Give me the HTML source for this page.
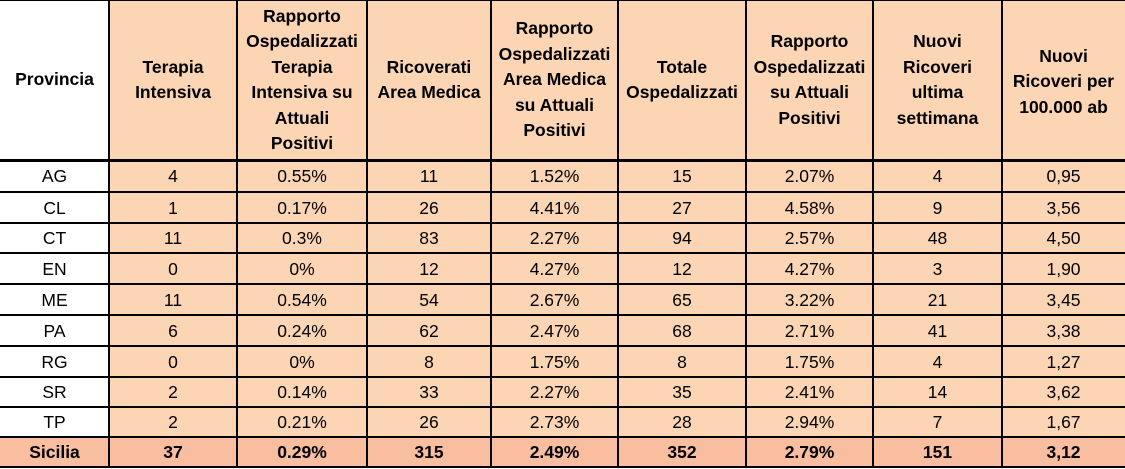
<!DOCTYPE html>
<html>
<head>
<meta charset="utf-8">
<style>
  html,body{margin:0;padding:0;background:#fff;}
  #wrap{position:relative;width:1125px;height:469px;overflow:hidden;background:#fff;
    font-family:"Liberation Sans",Arial,sans-serif;color:#000;}
  .c{position:absolute;display:flex;align-items:center;justify-content:center;text-align:center;
     white-space:nowrap;font-size:17.5px;}
  .h{font-weight:bold;line-height:25.5px;}
  .b{font-weight:bold;}
  .hl{position:absolute;left:0;width:1125px;background:#000;}
  .vl{position:absolute;top:0;height:468px;width:2px;background:#000;}
</style>
</head>
<body>
<div id="wrap">
  <div style="position:absolute;left:109px;top:0;width:1016px;height:160px;background:#FCD5B4;"></div>
  <div style="position:absolute;left:109px;top:160px;width:1016px;height:278px;background:#FCD5B4;"></div>
  <div style="position:absolute;left:0;top:437px;width:1125px;height:31px;background:#F9BEA0;"></div>

  <div class="c h" style="left:0;top:0;width:109px;height:160px;">Provincia</div>
  <div class="c h" style="left:109px;top:0;width:128px;height:160px;">Terapia<br>Intensiva</div>
  <div class="c h" style="left:237px;top:0;width:130px;height:160px;">Rapporto<br>Ospedalizzati<br>Terapia<br>Intensiva su<br>Attuali<br>Positivi</div>
  <div class="c h" style="left:367px;top:0;width:124px;height:160px;">Ricoverati<br>Area Medica</div>
  <div class="c h" style="left:491px;top:0;width:127px;height:160px;">Rapporto<br>Ospedalizzati<br>Area Medica<br>su Attuali<br>Positivi</div>
  <div class="c h" style="left:618px;top:0;width:128px;height:160px;">Totale<br>Ospedalizzati</div>
  <div class="c h" style="left:746px;top:0;width:127px;height:160px;">Rapporto<br>Ospedalizzati<br>su Attuali<br>Positivi</div>
  <div class="c h" style="left:873px;top:0;width:129px;height:160px;">Nuovi<br>Ricoveri<br>ultima<br>settimana</div>
  <div class="c h" style="left:1002px;top:0;width:123px;height:164px;">Nuovi<br>Ricoveri per<br>100.000 ab</div>

  <!-- AG -->
  <div class="c" style="left:0;top:161px;width:109px;height:31px;">AG</div>
  <div class="c" style="left:109px;top:161px;width:128px;height:31px;">4</div>
  <div class="c" style="left:237px;top:161px;width:130px;height:31px;">0.55%</div>
  <div class="c" style="left:367px;top:161px;width:124px;height:31px;">11</div>
  <div class="c" style="left:491px;top:161px;width:127px;height:31px;">1.52%</div>
  <div class="c" style="left:618px;top:161px;width:128px;height:31px;">15</div>
  <div class="c" style="left:746px;top:161px;width:127px;height:31px;">2.07%</div>
  <div class="c" style="left:873px;top:161px;width:129px;height:31px;">4</div>
  <div class="c" style="left:1002px;top:161px;width:123px;height:31px;">0,95</div>
  <!-- CL -->
  <div class="c" style="left:0;top:193px;width:109px;height:30px;">CL</div>
  <div class="c" style="left:109px;top:193px;width:128px;height:30px;">1</div>
  <div class="c" style="left:237px;top:193px;width:130px;height:30px;">0.17%</div>
  <div class="c" style="left:367px;top:193px;width:124px;height:30px;">26</div>
  <div class="c" style="left:491px;top:193px;width:127px;height:30px;">4.41%</div>
  <div class="c" style="left:618px;top:193px;width:128px;height:30px;">27</div>
  <div class="c" style="left:746px;top:193px;width:127px;height:30px;">4.58%</div>
  <div class="c" style="left:873px;top:193px;width:129px;height:30px;">9</div>
  <div class="c" style="left:1002px;top:193px;width:123px;height:30px;">3,56</div>
  <!-- CT -->
  <div class="c" style="left:0;top:224px;width:109px;height:29px;">CT</div>
  <div class="c" style="left:109px;top:224px;width:128px;height:29px;">11</div>
  <div class="c" style="left:237px;top:224px;width:130px;height:29px;">0.3%</div>
  <div class="c" style="left:367px;top:224px;width:124px;height:29px;">83</div>
  <div class="c" style="left:491px;top:224px;width:127px;height:29px;">2.27%</div>
  <div class="c" style="left:618px;top:224px;width:128px;height:29px;">94</div>
  <div class="c" style="left:746px;top:224px;width:127px;height:29px;">2.57%</div>
  <div class="c" style="left:873px;top:224px;width:129px;height:29px;">48</div>
  <div class="c" style="left:1002px;top:224px;width:123px;height:29px;">4,50</div>
  <!-- EN -->
  <div class="c" style="left:0;top:254px;width:109px;height:30px;">EN</div>
  <div class="c" style="left:109px;top:254px;width:128px;height:30px;">0</div>
  <div class="c" style="left:237px;top:254px;width:130px;height:30px;">0%</div>
  <div class="c" style="left:367px;top:254px;width:124px;height:30px;">12</div>
  <div class="c" style="left:491px;top:254px;width:127px;height:30px;">4.27%</div>
  <div class="c" style="left:618px;top:254px;width:128px;height:30px;">12</div>
  <div class="c" style="left:746px;top:254px;width:127px;height:30px;">4.27%</div>
  <div class="c" style="left:873px;top:254px;width:129px;height:30px;">3</div>
  <div class="c" style="left:1002px;top:254px;width:123px;height:30px;">1,90</div>
  <!-- ME -->
  <div class="c" style="left:0;top:285px;width:109px;height:30px;">ME</div>
  <div class="c" style="left:109px;top:285px;width:128px;height:30px;">11</div>
  <div class="c" style="left:237px;top:285px;width:130px;height:30px;">0.54%</div>
  <div class="c" style="left:367px;top:285px;width:124px;height:30px;">54</div>
  <div class="c" style="left:491px;top:285px;width:127px;height:30px;">2.67%</div>
  <div class="c" style="left:618px;top:285px;width:128px;height:30px;">65</div>
  <div class="c" style="left:746px;top:285px;width:127px;height:30px;">3.22%</div>
  <div class="c" style="left:873px;top:285px;width:129px;height:30px;">21</div>
  <div class="c" style="left:1002px;top:285px;width:123px;height:30px;">3,45</div>
  <!-- PA -->
  <div class="c" style="left:0;top:316px;width:109px;height:30px;">PA</div>
  <div class="c" style="left:109px;top:316px;width:128px;height:30px;">6</div>
  <div class="c" style="left:237px;top:316px;width:130px;height:30px;">0.24%</div>
  <div class="c" style="left:367px;top:316px;width:124px;height:30px;">62</div>
  <div class="c" style="left:491px;top:316px;width:127px;height:30px;">2.47%</div>
  <div class="c" style="left:618px;top:316px;width:128px;height:30px;">68</div>
  <div class="c" style="left:746px;top:316px;width:127px;height:30px;">2.71%</div>
  <div class="c" style="left:873px;top:316px;width:129px;height:30px;">41</div>
  <div class="c" style="left:1002px;top:316px;width:123px;height:30px;">3,38</div>
  <!-- RG -->
  <div class="c" style="left:0;top:347px;width:109px;height:30px;">RG</div>
  <div class="c" style="left:109px;top:347px;width:128px;height:30px;">0</div>
  <div class="c" style="left:237px;top:347px;width:130px;height:30px;">0%</div>
  <div class="c" style="left:367px;top:347px;width:124px;height:30px;">8</div>
  <div class="c" style="left:491px;top:347px;width:127px;height:30px;">1.75%</div>
  <div class="c" style="left:618px;top:347px;width:128px;height:30px;">8</div>
  <div class="c" style="left:746px;top:347px;width:127px;height:30px;">1.75%</div>
  <div class="c" style="left:873px;top:347px;width:129px;height:30px;">4</div>
  <div class="c" style="left:1002px;top:347px;width:123px;height:30px;">1,27</div>
  <!-- SR -->
  <div class="c" style="left:0;top:378px;width:109px;height:29px;">SR</div>
  <div class="c" style="left:109px;top:378px;width:128px;height:29px;">2</div>
  <div class="c" style="left:237px;top:378px;width:130px;height:29px;">0.14%</div>
  <div class="c" style="left:367px;top:378px;width:124px;height:29px;">33</div>
  <div class="c" style="left:491px;top:378px;width:127px;height:29px;">2.27%</div>
  <div class="c" style="left:618px;top:378px;width:128px;height:29px;">35</div>
  <div class="c" style="left:746px;top:378px;width:127px;height:29px;">2.41%</div>
  <div class="c" style="left:873px;top:378px;width:129px;height:29px;">14</div>
  <div class="c" style="left:1002px;top:378px;width:123px;height:29px;">3,62</div>
  <!-- TP -->
  <div class="c" style="left:0;top:408px;width:109px;height:29px;">TP</div>
  <div class="c" style="left:109px;top:408px;width:128px;height:29px;">2</div>
  <div class="c" style="left:237px;top:408px;width:130px;height:29px;">0.21%</div>
  <div class="c" style="left:367px;top:408px;width:124px;height:29px;">26</div>
  <div class="c" style="left:491px;top:408px;width:127px;height:29px;">2.73%</div>
  <div class="c" style="left:618px;top:408px;width:128px;height:29px;">28</div>
  <div class="c" style="left:746px;top:408px;width:127px;height:29px;">2.94%</div>
  <div class="c" style="left:873px;top:408px;width:129px;height:29px;">7</div>
  <div class="c" style="left:1002px;top:408px;width:123px;height:29px;">1,67</div>
  <!-- Sicilia -->
  <div class="c b" style="left:0;top:438px;width:109px;height:29px;">Sicilia</div>
  <div class="c b" style="left:109px;top:438px;width:128px;height:29px;">37</div>
  <div class="c b" style="left:237px;top:438px;width:130px;height:29px;">0.29%</div>
  <div class="c b" style="left:367px;top:438px;width:124px;height:29px;">315</div>
  <div class="c b" style="left:491px;top:438px;width:127px;height:29px;">2.49%</div>
  <div class="c b" style="left:618px;top:438px;width:128px;height:29px;">352</div>
  <div class="c b" style="left:746px;top:438px;width:127px;height:29px;">2.79%</div>
  <div class="c b" style="left:873px;top:438px;width:129px;height:29px;">151</div>
  <div class="c b" style="left:1002px;top:438px;width:123px;height:29px;">3,12</div>

  <!-- horizontal lines -->
  <div class="hl" style="top:0;height:1px;"></div>
  <div class="hl" style="top:159px;height:3px;"></div>
  <div class="hl" style="top:191px;height:2px;"></div>
  <div class="hl" style="top:222px;height:2px;"></div>
  <div class="hl" style="top:252px;height:2px;"></div>
  <div class="hl" style="top:283px;height:2px;"></div>
  <div class="hl" style="top:314px;height:2px;"></div>
  <div class="hl" style="top:345px;height:2px;"></div>
  <div class="hl" style="top:376px;height:2px;"></div>
  <div class="hl" style="top:406px;height:2px;"></div>
  <div class="hl" style="top:436px;height:2px;"></div>
  <div class="hl" style="top:466px;height:2px;"></div>

  <!-- vertical lines -->
  <div class="vl" style="left:108px;"></div>
  <div class="vl" style="left:236px;"></div>
  <div class="vl" style="left:366px;"></div>
  <div class="vl" style="left:490px;"></div>
  <div class="vl" style="left:617px;"></div>
  <div class="vl" style="left:745px;"></div>
  <div class="vl" style="left:872px;"></div>
  <div class="vl" style="left:1001px;"></div>
</div>
</body>
</html>
